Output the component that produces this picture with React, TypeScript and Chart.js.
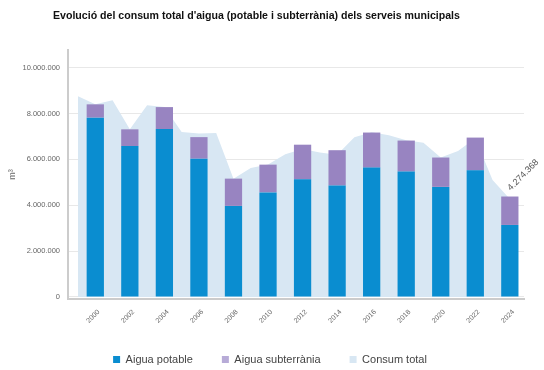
import React, { useEffect, useRef } from "react";
import { Chart, registerables } from "chart.js";

Chart.register(...registerables);

const TITLE = "Evolució del consum total d'aigua (potable i subterrània) dels serveis municipals";

const barYears = [2000, 2002, 2004, 2006, 2008, 2010, 2012, 2014, 2016, 2018, 2020, 2022, 2024];
const aiguaPotable = [7820000, 6580000, 7320000, 6030000, 3970000, 4560000, 5130000, 4860000, 5640000, 5470000, 4800000, 5520000, 3140000];
const aiguaSubterrania = [580000, 730000, 960000, 940000, 1190000, 1210000, 1510000, 1540000, 1530000, 1350000, 1280000, 1430000, 1240000];

const totalYears = [1999, 2000, 2001, 2002, 2003, 2004, 2005, 2006, 2007, 2008, 2009, 2010, 2011, 2012, 2013, 2014, 2015, 2016, 2017, 2018, 2019, 2020, 2021, 2022, 2023, 2024];
const consumTotal = [8750000, 8400000, 8580000, 7310000, 8360000, 8280000, 7190000, 7130000, 7150000, 5160000, 5620000, 5780000, 6220000, 6450000, 6300000, 6200000, 6960000, 7180000, 7050000, 6830000, 6720000, 6080000, 6360000, 6920000, 5100000, 4274368];

const yTickValues = [0, 2000000, 4000000, 6000000, 8000000, 10000000];

const FONT = '"Liberation Sans", Arial, Helvetica, sans-serif';

const fmt = (n: number) => String(Math.round(n)).replace(/\B(?=(\d{3})+(?!\d))/g, ".");

const endLabelPlugin = {
  id: "endLabel",
  afterDatasetsDraw(chart: any) {
    const meta = chart.getDatasetMeta(2);
    const pts = meta.data;
    if (!pts || !pts.length) return;
    const pt = pts[pts.length - 1];
    const ctx = chart.ctx;
    ctx.save();
    ctx.translate(pt.x + 1, pt.y - 8);
    ctx.rotate(-Math.PI / 4);
    ctx.font = `9px ${FONT}`;
    ctx.textAlign = "left";
    ctx.textBaseline = "alphabetic";
    ctx.lineWidth = 2;
    ctx.strokeStyle = "rgba(255,255,255,0.8)";
    const txt = fmt(consumTotal[consumTotal.length - 1]);
    ctx.strokeText(txt, 0, 0);
    ctx.fillStyle = "#555";
    ctx.fillText(txt, 0, 0);
    ctx.restore();
  },
};

export default function App() {
  const canvasRef = useRef<HTMLCanvasElement | null>(null);

  useEffect(() => {
    if (!canvasRef.current) return;
    Chart.defaults.font.family = FONT;
    const chart = new Chart(canvasRef.current, {
      type: "bar",
      data: {
        datasets: [
          {
            type: "bar",
            label: "Aigua potable",
            data: barYears.map((x, i) => ({ x, y: aiguaPotable[i] })),
            backgroundColor: "#0a8dd0",
            stack: "bars",
            order: 1,
            barPercentage: 1,
            categoryPercentage: 0.5,
          },
          {
            type: "bar",
            label: "Aigua subterrània",
            data: barYears.map((x, i) => ({ x, y: aiguaSubterrania[i] })),
            backgroundColor: "#9884c1",
            stack: "bars",
            order: 1,
            barPercentage: 1,
            categoryPercentage: 0.5,
          },
          {
            type: "line",
            label: "Consum total",
            data: totalYears.map((x, i) => ({ x, y: consumTotal[i] })),
            backgroundColor: "#d8e7f3",
            borderColor: "#d8e7f3",
            borderWidth: 0,
            pointRadius: 0,
            fill: "origin",
            tension: 0,
            stack: "total",
            order: 2,
          } as any,
        ],
      },
      options: {
        animation: false,
        responsive: false,
        devicePixelRatio: 1,
        layout: { padding: { top: 50, left: 0, right: 4, bottom: -5 } },
        plugins: {
          title: { display: false },
          tooltip: { enabled: false },
          legend: {
            position: "bottom",
            labels: {
              boxWidth: 7,
              boxHeight: 7,
              padding: 29,
              color: "#444",
              font: { size: 11, family: FONT },
              generateLabels: (c: any) => {
                const items = (Chart as any).defaults.plugins.legend.labels.generateLabels(c);
                if (items[1]) {
                  items[1].fillStyle = "#b7abd7";
                  items[1].strokeStyle = "#b7abd7";
                }
                return items;
              },
            },
          },
        },
        scales: {
          x: {
            type: "linear",
            offset: false,
            min: 1998.42,
            max: 2024.82,
            stacked: true,
            grid: { display: false },
            border: { display: true, color: "#cccccc", width: 2 },
            afterBuildTicks: (s: any) => {
              s.ticks = barYears.map((v) => ({ value: v + 0.2 }));
            },
            afterFit: (s: any) => {
              s.height = 26;
            },
            ticks: {
              autoSkip: false,
              minRotation: 45,
              maxRotation: 45,
              padding: 1,
              color: "#666",
              font: { size: 7, family: FONT },
              callback: (v: any) => String(Math.round(Number(v))),
            },
          },
          y: {
            type: "linear",
            min: -90000,
            max: 10770000,
            stacked: true,
            afterBuildTicks: (s: any) => {
              s.ticks = yTickValues.map((v) => ({ value: v }));
            },
            afterFit: (s: any) => {
              s.width = 68;
            },
            grid: { color: "#e8e8e8", drawTicks: false, lineWidth: 1 },
            border: { display: true, color: "#cccccc", width: 2 },
            ticks: {
              padding: 8,
              color: "#666",
              font: { size: 7.5, family: FONT },
              callback: (v: any) => fmt(Number(v)),
            },
            title: {
              display: true,
              text: "m³",
              color: "#666",
              font: { size: 9, family: FONT },
              padding: { top: 7, bottom: 0 },
            },
          },
          y2: {
            type: "linear",
            position: "right",
            display: true,
            grid: { display: false },
            border: { display: false },
            ticks: { display: false },
            afterFit: (s: any) => {
              s.width = 16;
            },
          },
        },
      },
      plugins: [endLabelPlugin],
    } as any);
    return () => chart.destroy();
  }, []);

  return (
    <div style={{ position: "absolute", left: 0, top: 0, width: 544, height: 370, background: "#fff" }}>
      <div
        style={{
          position: "absolute",
          left: 53,
          top: 9,
          font: `bold 10.6px ${FONT}`,
          color: "#111",
          whiteSpace: "nowrap",
        }}
      >
        {TITLE}
      </div>
      <canvas ref={canvasRef} width={544} height={370} style={{ display: "block" }} />
    </div>
  );
}
